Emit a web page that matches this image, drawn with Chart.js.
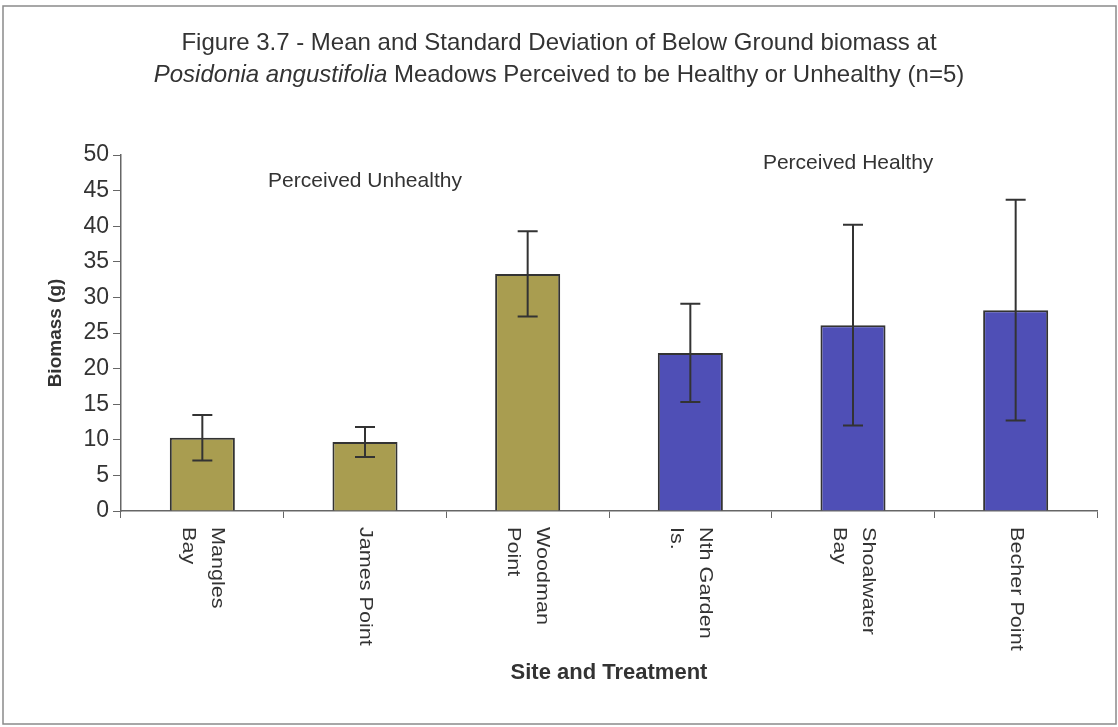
<!DOCTYPE html>
<html>
<head>
<meta charset="utf-8">
<script src="https://cdn.jsdelivr.net/npm/chart.js@4"></script>
<style>
  html, body { margin: 0; padding: 0; background: #fff; overflow: hidden; }
  #caixa { width: 1118px; height: 727px; position: relative; }
</style>
</head>
<body>
<div id="caixa"><canvas id="grafico"></canvas></div>
<script>
const sites = [['Mangles', 'Bay'], ['James Point'], ['Woodman', 'Point'], ['Nth Garden', 'Is.'], ['Shoalwater', 'Bay'], ['Becher Point']]
const meanBiomass = [10.3, 9.7, 33.3, 22.2, 26.1, 28.2]
const sdBiomass = [3.2, 2.1, 6.0, 6.9, 14.1, 15.5]
const condition = ['Unhealthy', 'Unhealthy', 'Unhealthy', 'Healthy', 'Healthy', 'Healthy']
const groupLabels = ['Perceived Unhealthy', 'Perceived Healthy']
const groupLabelSite = [1, 3.97]
const groupLabelValue = [46.3, 48.9]

const fonte = "'Liberation Sans', Arial, sans-serif"
const corTexto = '#333'
const corBarra = { Unhealthy: '#a99d50', Healthy: '#4f4fb6' }

const moldura = {
    id: 'moldura',
    beforeDraw(chart) {
        const ctx = chart.ctx
        ctx.save()
        ctx.fillStyle = '#fff'
        ctx.fillRect(0, 0, chart.width, chart.height)
        ctx.strokeStyle = '#8a8a8a'
        ctx.lineWidth = 1.5
        ctx.strokeRect(3, 6, chart.width - 5, chart.height - 9)

        // titulo em duas linhas, com parte em italico
        ctx.fillStyle = corTexto
        ctx.textBaseline = 'middle'
        ctx.textAlign = 'left'
        const cx = chart.width / 2
        ctx.font = `24px ${fonte}`
        const linha1 = 'Figure 3.7 - Mean and Standard Deviation of Below Ground biomass at'
        ctx.fillText(linha1, cx - ctx.measureText(linha1).width / 2, 43)
        const italico = 'Posidonia angustifolia'
        const resto = ' Meadows Perceived to be Healthy or Unhealthy (n=5)'
        ctx.font = `italic 24px ${fonte}`
        const w1 = ctx.measureText(italico).width
        ctx.font = `24px ${fonte}`
        const w2 = ctx.measureText(resto).width
        let x0 = cx - (w1 + w2) / 2
        ctx.font = `italic 24px ${fonte}`
        ctx.fillText(italico, x0, 75)
        ctx.font = `24px ${fonte}`
        ctx.fillText(resto, x0 + w1, 75)
        ctx.restore()
    }
}

const barrasErro = {
    id: 'barrasErro',
    afterDatasetsDraw(chart) {
        const ctx = chart.ctx
        const y = chart.scales.y
        const meta = chart.getDatasetMeta(0)
        ctx.save()
        ctx.strokeStyle = '#333'
        ctx.lineWidth = 2
        for (let i = 0; i < meta.data.length; i++) {
            const x = meta.data[i].x
            const topo = y.getPixelForValue(meanBiomass[i] + sdBiomass[i])
            const base = y.getPixelForValue(meanBiomass[i] - sdBiomass[i])
            ctx.beginPath()
            ctx.moveTo(x, topo)
            ctx.lineTo(x, base)
            ctx.moveTo(x - 10, topo)
            ctx.lineTo(x + 10, topo)
            ctx.moveTo(x - 10, base)
            ctx.lineTo(x + 10, base)
            ctx.stroke()
        }
        ctx.restore()
    }
}

const rotulos = {
    id: 'rotulos',
    afterDraw(chart) {
        const ctx = chart.ctx
        const xs = chart.scales.x
        const ys = chart.scales.y
        ctx.save()
        ctx.fillStyle = corTexto

        // nomes dos locais, girados no sentido horario
        ctx.font = `18px ${fonte}`
        ctx.textAlign = 'left'
        ctx.textBaseline = 'middle'
        for (let i = 0; i < sites.length; i++) {
            const linhas = sites[i]
            const xc = xs.getPixelForValue(i)
            for (let j = 0; j < linhas.length; j++) {
                const dx = ((linhas.length - 1) / 2 - j) * 29
                ctx.save()
                ctx.translate(xc + dx, xs.top + 16)
                ctx.rotate(Math.PI / 2)
                ctx.scale(1.2, 1)
                ctx.fillText(linhas[j], 0, 0)
                ctx.restore()
            }
        }

        // grupos
        ctx.font = `21px ${fonte}`
        ctx.textAlign = 'center'
        for (let g = 0; g < groupLabels.length; g++) {
            ctx.fillText(groupLabels[g], xs.getPixelForValue(groupLabelSite[g]), ys.getPixelForValue(groupLabelValue[g]))
        }
        ctx.restore()
    }
}

const grafico = new Chart(document.getElementById('grafico'), {
    type: 'bar',
    data: {
        labels: sites.map(s => s.join(' ')),
        datasets: [{
            data: meanBiomass,
            backgroundColor: condition.map(c => corBarra[c]),
            borderColor: '#333',
            borderWidth: 2,
            barPercentage: 0.4,
            categoryPercentage: 1
        }]
    },
    options: {
        responsive: true,
        maintainAspectRatio: false,
        animation: false,
        layout: { padding: { top: 155, right: 21, bottom: 0, left: 0 } },
        plugins: {
            legend: { display: false },
            tooltip: { enabled: false }
        },
        scales: {
            x: {
                grid: { drawOnChartArea: false, tickLength: 7, tickColor: '#666', offset: true },
                border: { color: '#666', width: 1.5 },
                ticks: { display: false },
                title: {
                    display: true,
                    text: 'Site and Treatment',
                    color: corTexto,
                    font: { family: fonte, size: 22, weight: 'bold' },
                    padding: { top: 0, bottom: 41 }
                },
                afterFit(scale) { scale.height = 216 }
            },
            y: {
                min: 0,
                max: 50,
                ticks: {
                    stepSize: 5,
                    color: corTexto,
                    padding: 4,
                    font: { family: fonte, size: 23 }
                },
                grid: { drawOnChartArea: false, tickLength: 8, tickColor: '#666' },
                border: { color: '#666', width: 1.5 },
                title: {
                    display: true,
                    text: 'Biomass (g)',
                    color: corTexto,
                    font: { family: fonte, size: 19, weight: 'bold' },
                    padding: { top: 44, bottom: 0 }
                },
                afterFit(scale) { scale.width = 121 }
            }
        }
    },
    plugins: [moldura, barrasErro, rotulos]
})
</script>
</body>
</html>
